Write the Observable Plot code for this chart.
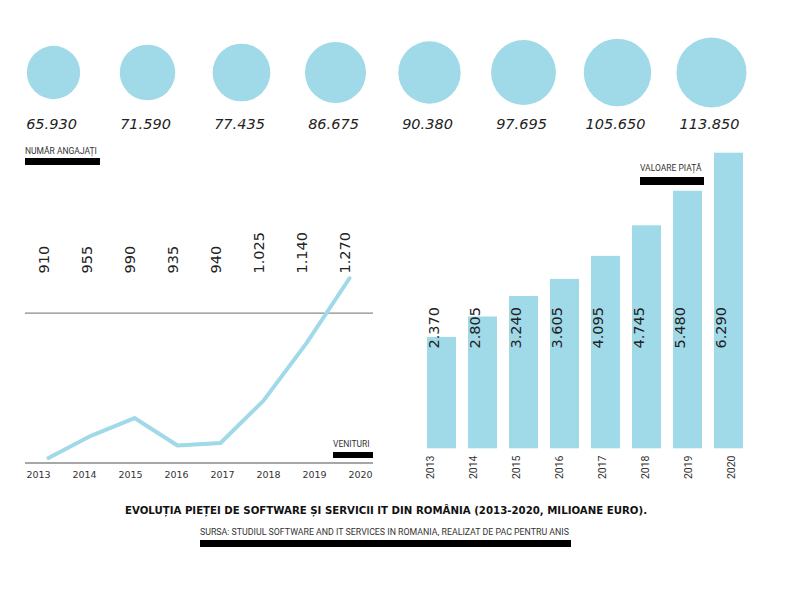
<!DOCTYPE html>
<html><head><meta charset="utf-8">
<script src="https://cdn.jsdelivr.net/npm/d3@7"></script>
<script src="https://cdn.jsdelivr.net/npm/@observablehq/plot@0.6"></script>
<style>
body{margin:0;background:#fff;}
#wrap{position:relative;width:800px;height:600px;overflow:hidden;font-family:Roboto,sans-serif;background:#fff;}
#wrap svg{position:absolute;left:0;top:0;}
.tag{position:absolute;font-size:8.5px;line-height:10px;height:10px;color:#333;white-space:nowrap;}
.blk{position:absolute;background:#000;}
</style></head><body><div id="wrap"></div>
<script>
// ---- data ----
const years = ["2013","2014","2015","2016","2017","2018","2019","2020"];
const employees = [65930, 71590, 77435, 86675, 90380, 97695, 105650, 113850];
const employeeLabels = ["65.930","71.590","77.435","86.675","90.380","97.695","105.650","113.850"];
const revenue = [910, 955, 990, 935, 940, 1025, 1140, 1270];
const revenueLabels = ["910","955","990","935","940","1.025","1.140","1.270"];
const revenueGrid = [900, 1200];
const market = [2370, 2805, 3240, 3605, 4095, 4745, 5480, 6290];
const marketLabels = ["2.370","2.805","3.240","3.605","4.095","4.745","5.480","6.290"];
const tagEmployees = "NUMĂR ANGAJAȚI";
const tagRevenue = "VENITURI";
const tagMarket = "VALOARE PIAȚĂ";
const title = "EVOLUȚIA PIEȚEI DE SOFTWARE ȘI SERVICII IT DIN ROMÂNIA (2013-2020, MILIOANE EURO).";
const source = "SURSA: STUDIUL SOFTWARE AND IT SERVICES IN ROMANIA, REALIZAT DE PAC PENTRU ANIS";

const empRows = years.map((y,i)=>({year:y, value:employees[i], label:employeeLabels[i]}));
const revRows = years.map((y,i)=>({year:y, value:revenue[i], label:revenueLabels[i]}));
const mktRows = years.map((y,i)=>({year:y, value:market[i], label:marketLabels[i]}));

const C = "#a0d9e8";
const NUM = "DejaVu Sans";
const wrap = document.getElementById("wrap");
const base = {width:800, height:600, marginLeft:0, marginRight:0, marginTop:0, style:{background:"transparent", overflow:"visible", color:"#222"}};
const add = (o) => wrap.appendChild(Plot.plot({...base, ...o}));

// circles
add({
  marginBottom: 456,
  x:{type:"point", domain:years, range:[51,712], padding:0, axis:null},
  r:{domain:[0,113850], range:[0,35]},
  marks:[
    Plot.dot(empRows,{x:"year", r:"value", fill:C, stroke:"none"}),
    Plot.text(empRows,{x:"year", text:"label", dy:52, dx:-2, fontSize:14.5, fontStyle:"italic", fontFamily:NUM, fill:"#222"})
  ]
});

// line chart
add({
  marginLeft:25, marginRight:427, marginBottom:327,
  x:{type:"point", domain:years, range:[46,351], padding:0, axis:null},
  y:{domain:[900,1200], range:[462.5,312.7], axis:null},
  marks:[
    Plot.ruleY(revenueGrid,{stroke:"#8a8a8a", strokeWidth:1.3}),
    Plot.line(revRows,{x:"year", y:"value", stroke:C, strokeWidth:4}),
    Plot.text(revRows,{x:"year", text:"label", frameAnchor:"bottom", rotate:-90, textAnchor:"start", fontSize:14.5, fontFamily:NUM, fill:"#222"})
  ]
});
// line chart year labels
add({
  marginBottom: 123,
  x:{type:"point", domain:years, range:[37.5,360], padding:0, axis:null},
  marks:[
    Plot.text(years,{x:d=>d, text:d=>d, frameAnchor:"bottom", fontSize:9.5, fontFamily:NUM, fill:"#333"})
  ]
});

// bar chart
add({
  marginBottom: 252,
  x:{type:"band", domain:years, range:[424.3,745.7], paddingInner:0.287, paddingOuter:0, axis:null},
  y:{domain:[0,6290], range:[448.3,152.7], axis:null},
  marks:[
    Plot.barY(mktRows,{x:"year", y:"value", fill:C}),
    Plot.text(mktRows,{x:"year", text:"label", frameAnchor:"bottom", rotate:-90, textAnchor:"start", dx:-3, fontSize:14.5, fontFamily:NUM, fill:"#222"})
  ]
});
// bar chart year labels
add({
  marginBottom: 145,
  x:{type:"point", domain:years, range:[431,735], padding:0, axis:null},
  marks:[
    Plot.text(years,{x:d=>d, text:d=>d, frameAnchor:"bottom", rotate:-90, textAnchor:"end", fontSize:10.5, fontFamily:"Roboto", fill:"#333"})
  ]
});

// tags & captions
function tag(text, left, cy, style={}) {
  const d = document.createElement("div");
  d.className = "tag"; d.textContent = text;
  d.style.left = left+"px"; d.style.top = (cy-5)+"px";
  Object.assign(d.style, style);
  wrap.appendChild(d); return d;
}
function blk(x1, x2, y1, y2) {
  const d = document.createElement("div");
  d.className = "blk";
  Object.assign(d.style,{left:x1+"px", top:y1+"px", width:(x2-x1)+"px", height:(y2-y1)+"px"});
  wrap.appendChild(d);
}
tag(tagEmployees, 25, 151); blk(25,100,157.7,165);
tag(tagRevenue, 333, 444); blk(333,373,451.5,457.5);
tag(tagMarket, 640, 168); blk(640,704,177.3,185);
tag(title, 0, 510.5, {width:"800px", left:"-14px", textAlign:"center", fontFamily:NUM, fontWeight:"bold", fontSize:"10.2px", color:"#111"});
tag(source, 200, 531.5, {fontSize:"8.8px"}); blk(200,571,540.3,547.3);
</script></body></html>
